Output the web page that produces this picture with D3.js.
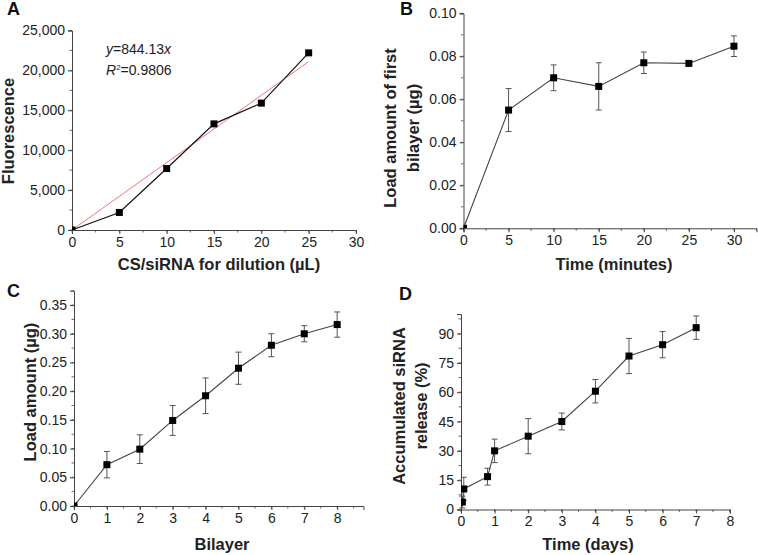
<!DOCTYPE html>
<html><head><meta charset="utf-8">
<script src="https://cdn.jsdelivr.net/npm/d3@7"></script>
<style>body{margin:0;background:#fff}svg{display:block;font-family:Arial,"Liberation Sans",sans-serif}</style>
</head><body>
<svg id="c" width="758" height="555"></svg>
<script>
// Panel A
const aX = [0, 5, 10, 15, 20, 25];
const aY = [0, 2200, 7700, 13300, 15900, 22200];
const aSlope = 844.13;
const aXTicks = [0, 5, 10, 15, 20, 25, 30];
const aYTicks = [0, 5000, 10000, 15000, 20000, 25000];
// Panel B
const bX = [0, 5, 10, 15, 20, 25, 30];
const bY = [0, 0.055, 0.070, 0.066, 0.077, 0.0767, 0.0847];
const bErr = [0, 0.010, 0.006, 0.011, 0.005, 0.0009, 0.0048];
const bXTicks = [0, 5, 10, 15, 20, 25, 30];
const bYTicks = [0, 0.02, 0.04, 0.06, 0.08, 0.10];
// Panel C
const cX = [0, 1, 2, 3, 4, 5, 6, 7, 8];
const cY = [0, 0.072, 0.099, 0.149, 0.192, 0.240, 0.280, 0.300, 0.316];
const cErr = [0, 0.023, 0.025, 0.026, 0.031, 0.028, 0.020, 0.014, 0.022];
const cXTicks = [0, 1, 2, 3, 4, 5, 6, 7, 8];
const cYTicks = [0, 0.05, 0.10, 0.15, 0.20, 0.25, 0.30, 0.35];
// Panel D
const dX = [0.04, 0.083, 0.79, 1, 2, 3, 4, 5, 6, 7];
const dY = [3.8, 10.5, 16.8, 30, 37.5, 45, 60.5, 78.5, 84.3, 93];
const dErr = [3, 6, 4.3, 6, 9, 4.3, 6, 9, 6.7, 6];
const dXTicks = [0, 1, 2, 3, 4, 5, 6, 7, 8];
const dYTicks = [0, 15, 30, 45, 60, 75, 90];

const svg = d3.select("#c");
let clipId = 0;

function panel(o) {
  const x = d3.scaleLinear().domain(o.xd).range(o.xr);
  const y = d3.scaleLinear().domain(o.yd).range(o.yr);
  const g = svg.append("g");
  const axisCol = "#444";
  const xMinor = d3.range(o.xd[0], o.xd[1] + 1e-9, o.xMinor);
  const yMinor = d3.range(o.yd[0], o.yd[1] + 1e-9, o.yMinor);
  g.selectAll(null).data(xMinor).join("line")
    .attr("x1", d => x(d)).attr("x2", d => x(d))
    .attr("y1", o.yr[0]).attr("y2", o.yr[0] + 2.5).attr("stroke", axisCol).attr("stroke-width", 0.8);
  g.selectAll(null).data(yMinor).join("line")
    .attr("y1", d => y(d)).attr("y2", d => y(d))
    .attr("x1", o.xr[0]).attr("x2", o.xr[0] - 2.5).attr("stroke", axisCol).attr("stroke-width", 0.8);
  const xa = g.append("g").attr("transform", `translate(0,${o.yr[0]})`)
    .call(d3.axisBottom(x).tickValues(o.xTicks).tickSize(4).tickPadding(3).tickFormat(o.xFmt || d3.format("d")));
  const ya = g.append("g").attr("transform", `translate(${o.xr[0]},0)`)
    .call(d3.axisLeft(y).tickValues(o.yTicks).tickSize(4).tickPadding(3).tickFormat(o.yFmt));
  [xa, ya].forEach(a => {
    a.select(".domain").attr("stroke", axisCol).attr("stroke-width", 1);
    a.selectAll(".tick line").attr("stroke", axisCol).attr("stroke-width", 1);
    a.selectAll("text").attr("fill", "#222").style("font-size", "14px").style("font-family", "Arial, 'Liberation Sans', sans-serif");
  });
  g.append("text").attr("x", o.xTitle[1]).attr("y", o.xTitle[2]).attr("text-anchor", "middle")
    .style("font-size", "16.5px").style("font-weight", "bold").attr("fill", "#222").text(o.xTitle[0]);
  o.yTitle.forEach(t => {
    g.append("text").attr("transform", `translate(${t[1]},${t[2]}) rotate(-90)`).attr("text-anchor", "middle")
      .style("font-size", "16.5px").style("font-weight", "bold").attr("fill", "#222").text(t[0]);
  });
  g.append("text").attr("x", o.label[1]).attr("y", o.label[2])
    .style("font-size", "18px").style("font-weight", "bold").attr("fill", "#111").text(o.label[0]);
  const id = "clip" + (clipId++);
  svg.append("clipPath").attr("id", id).append("rect")
    .attr("x", o.xr[0]).attr("y", o.yr[1] - 10).attr("width", o.xr[1] - o.xr[0] + 10).attr("height", o.yr[0] - o.yr[1] + 10);
  const pg = g.append("g");
  const mg = g.append("g").attr("clip-path", `url(#${id})`);
  if (o.fit) {
    pg.append("line").attr("x1", x(0)).attr("y1", y(0)).attr("x2", x(o.fit[1])).attr("y2", y(o.fit[0] * o.fit[1]))
      .attr("stroke", "#e86a6a").attr("stroke-width", 0.9);
  }
  const pts = o.xs.map((v, i) => [v, o.ys[i], o.err ? o.err[i] : 0]);
  pg.append("path").datum(pts).attr("fill", "none").attr("stroke", o.lineCol).attr("stroke-width", o.lineW)
    .attr("d", d3.line().x(d => x(d[0])).y(d => y(d[1])));
  if (o.err) {
    const eg = pg.append("g").attr("stroke", "#555").attr("stroke-width", 1);
    pts.filter(d => d[2] > 0).forEach(d => {
      eg.append("line").attr("x1", x(d[0])).attr("x2", x(d[0])).attr("y1", y(d[1] - d[2])).attr("y2", y(d[1] + d[2]));
      [d[1] - d[2], d[1] + d[2]].forEach(v => eg.append("line").attr("x1", x(d[0]) - 3).attr("x2", x(d[0]) + 3).attr("y1", y(v)).attr("y2", y(v)));
    });
  }
  mg.selectAll(null).data(pts).join("rect")
    .attr("x", d => x(d[0]) - 3.5).attr("y", d => y(d[1]) - 3.5).attr("width", 7).attr("height", 7).attr("fill", "#000");
  return {x, y, g};
}

const pA = panel({
  xd: [0, 30], xr: [72, 356], yd: [0, 25000], yr: [230, 30.5],
  xTicks: aXTicks, yTicks: aYTicks, xMinor: 2.5, yMinor: 2500,
  yFmt: d3.format(","), xs: aX, ys: aY, lineCol: "#111", lineW: 1.2, fit: [aSlope, 25],
  xTitle: ["CS/siRNA for dilution (\u00b5L)", 219, 270], yTitle: [["Fluorescence", 14, 131]], label: ["A", 7, 15]
});
const eq = pA.g.append("g").style("font-size", "14px").attr("fill", "#222");
const t1 = eq.append("text").attr("x", 106).attr("y", 54);
t1.append("tspan").style("font-style", "italic").text("y");
t1.append("tspan").text("=" + aSlope);
t1.append("tspan").style("font-style", "italic").text("x");
const t2 = eq.append("text").attr("x", 106).attr("y", 75);
t2.append("tspan").style("font-style", "italic").text("R");
t2.append("tspan").attr("dy", -5).style("font-size", "8px").text("2");
t2.append("tspan").attr("dy", 5).text("=0.9806");

panel({
  xd: [0, 32.5], xr: [463.5, 756.5], yd: [0, 0.10], yr: [228.3, 13.3],
  xTicks: bXTicks, yTicks: bYTicks, xMinor: 2.5, yMinor: 0.01,
  yFmt: d3.format(".2f"), xs: bX, ys: bY, err: bErr, lineCol: "#444", lineW: 1.1,
  xTitle: ["Time (minutes)", 614, 270],
  yTitle: [["Load amount of first", 396, 128], ["bilayer (\u00b5g)", 419, 128]], label: ["B", 400, 15]
});

panel({
  xd: [0, 8.8], xr: [74, 363.5], yd: [0, 0.375], yr: [506, 290.7],
  xTicks: cXTicks, yTicks: cYTicks, xMinor: 0.5, yMinor: 0.025,
  yFmt: d3.format(".2f"), xs: cX, ys: cY, err: cErr, lineCol: "#444", lineW: 1.1,
  xTitle: ["Bilayer", 222, 550], yTitle: [["Load amount (\u00b5g)", 36, 392]], label: ["C", 7, 297]
});

panel({
  xd: [0, 8], xr: [461, 729.8], yd: [0, 100], yr: [509.5, 314],
  xTicks: dXTicks, yTicks: dYTicks, xMinor: 0.5, yMinor: 7.5,
  yFmt: d3.format("d"), xs: dX, ys: dY, err: dErr, lineCol: "#444", lineW: 1.1,
  xTitle: ["Time (days)", 588, 550],
  yTitle: [["Accumulated siRNA", 405, 406], ["release (%)", 427, 406]], label: ["D", 399, 300]
});
</script>
</body></html>
